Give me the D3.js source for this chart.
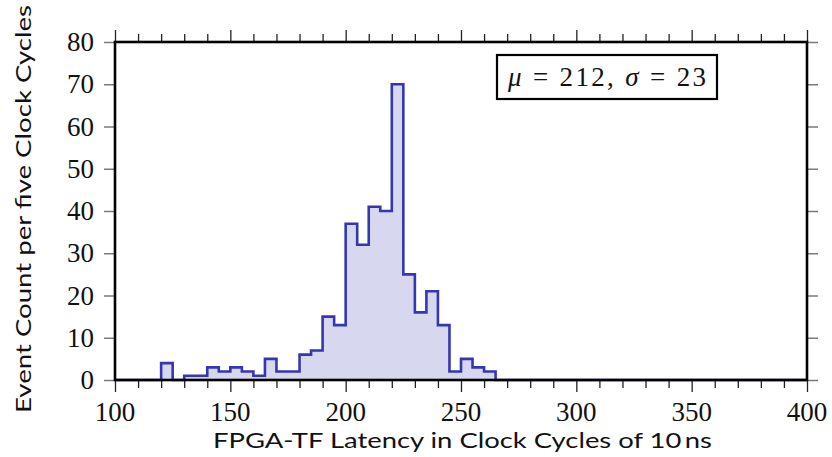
<!DOCTYPE html>
<html>
<head>
<meta charset="utf-8">
<script src="https://cdn.jsdelivr.net/npm/d3@7"></script>
<style>
  html, body { margin: 0; padding: 0; background: #fff; }
  svg { display: block; }
</style>
</head>
<body>
<svg id="chart" width="832" height="457"></svg>
<script>
// ---- data ----
const binStarts = d3.range(100, 400, 5);
const counts = [
  0, 0, 0, 0,                       // 100-115
  4, 0, 1, 1, 3, 2, 3, 2, 1, 5,     // 120-165
  2, 2, 6, 7, 15, 13, 37, 32, 41, 40, // 170-215
  70, 25, 16, 21, 13, 2, 5, 3, 2,   // 220-260
  0, 0, 0, 0, 0, 0, 0, 0, 0, 0, 0, 0, 0, 0, 0, 0, 0, 0, 0, 0, 0, 0, 0, 0, 0, 0, 0 // 265-395
];
const xTicks = d3.range(100, 401, 10);
const xLabels = [100, 150, 200, 250, 300, 350, 400];
const yTicks = d3.range(0, 81, 10);
const xTitle = "FPGA-TF Latency in Clock Cycles of 10\u2009ns";
const yTitle = "Event Count per five Clock Cycles";
const mu = 212, sigma = 23;

// ---- layout ----
const svg = d3.select("#chart");
const L = 115, R = 807, T = 42, B = 380;
const x = d3.scaleLinear().domain([100, 400]).range([L, R]);
const y = d3.scaleLinear().domain([0, 80]).range([B, T]);

const pts = binStarts.map((s, i) => [s, counts[i]]);
pts.push([400, counts[counts.length - 1]]);

const area = d3.area().curve(d3.curveStepAfter)
  .x(d => x(d[0])).y0(y(0)).y1(d => y(d[1]));
const line = d3.line().curve(d3.curveStepAfter)
  .x(d => x(d[0])).y(d => y(d[1]));

svg.append("path").attr("d", area(pts)).attr("fill", "#d7d7ef");
svg.append("path").attr("d", line(pts)).attr("fill", "none")
  .attr("stroke", "#3636b4").attr("stroke-width", 2.6);

// ---- axes ----
function styleX(g, dir) {
  g.select(".domain").remove();
  g.selectAll(".tick line")
    .attr("stroke", "#222").attr("stroke-width", 1.3)
    .attr("y2", d => dir * (d % 50 === 0 ? 12 : 8));
  g.selectAll(".tick text").remove();
}
svg.append("g").attr("transform", `translate(0,${B})`)
  .call(d3.axisBottom(x).tickValues(xTicks).tickSize(8))
  .call(g => styleX(g, 1));
svg.append("g").attr("transform", `translate(0,${T})`)
  .call(d3.axisTop(x).tickValues(xTicks).tickSize(8))
  .call(g => styleX(g, -1));

function styleY(g) {
  g.select(".domain").remove();
  g.selectAll(".tick line").attr("stroke", "#7a7a7a").attr("stroke-width", 1.5);
  g.selectAll(".tick text").remove();
}
svg.append("g").attr("transform", `translate(${L},0)`)
  .call(d3.axisLeft(y).tickValues(yTicks).tickSize(11)).call(styleY);
svg.append("g").attr("transform", `translate(${R},0)`)
  .call(d3.axisRight(y).tickValues(yTicks).tickSize(11)).call(styleY);

// tick labels
const serif = "'Liberation Serif', 'Times New Roman', serif";
svg.append("g").selectAll("text").data(xLabels).join("text")
  .attr("x", d => x(d)).attr("y", 421)
  .attr("text-anchor", "middle")
  .attr("font-family", serif).attr("font-size", 27).attr("fill", "#111")
  .text(d => d);
svg.append("g").selectAll("text").data(yTicks).join("text")
  .attr("x", 94).attr("y", d => y(d) + 9)
  .attr("text-anchor", "end")
  .attr("font-family", serif).attr("font-size", 27).attr("fill", "#111")
  .text(d => d);

// frame
svg.append("rect").attr("x", L).attr("y", T).attr("width", R - L).attr("height", B - T)
  .attr("fill", "none").attr("stroke", "#000").attr("stroke-width", 2.6);

// axis titles
const sans = "Lato, 'Open Sans', sans-serif";
svg.append("text").attr("x", 213).attr("y", 448)
  .attr("font-family", sans).attr("font-size", 21).attr("fill", "#111")
  .attr("textLength", 499).attr("lengthAdjust", "spacingAndGlyphs")
  .text(xTitle);
svg.append("text")
  .attr("transform", "translate(31,413) rotate(-90)")
  .attr("font-family", sans).attr("font-size", 21).attr("fill", "#111")
  .attr("textLength", 408).attr("lengthAdjust", "spacingAndGlyphs")
  .text(yTitle);

// annotation box
svg.append("rect").attr("x", 497).attr("y", 55).attr("width", 220).attr("height", 44)
  .attr("fill", "#fff").attr("stroke", "#000").attr("stroke-width", 2.2);
const ann = svg.append("text").attr("x", 508).attr("y", 86)
  .attr("font-family", serif).attr("font-size", 27).attr("fill", "#111")
  .attr("textLength", 198).attr("lengthAdjust", "spacing");
ann.append("tspan").attr("font-style", "italic").text("\u03bc");
ann.append("tspan").text(" = " + mu + ", ");
ann.append("tspan").attr("font-style", "italic").text("\u03c3");
ann.append("tspan").text(" = " + sigma);
</script>
</body>
</html>
